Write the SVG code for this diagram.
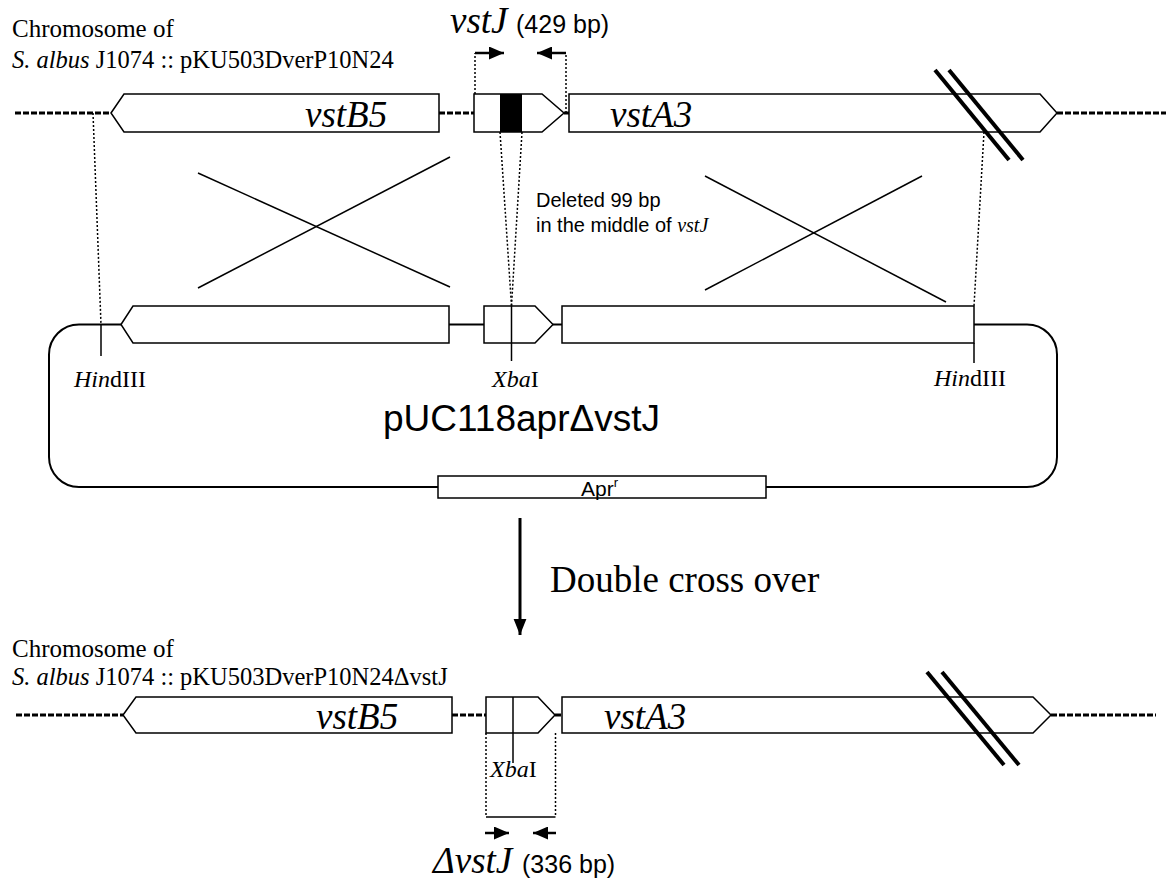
<svg xmlns="http://www.w3.org/2000/svg" width="1166" height="880" viewBox="0 0 1166 880">
<defs>
<style>
.gene{fill:#fff;stroke:#000;stroke-width:1.5}
.blk{fill:#000}
.dash{stroke:#000;stroke-width:3;stroke-dasharray:6 2;fill:none}
.dot{stroke:#000;stroke-width:1.5;stroke-dasharray:2 2;fill:none}
.ln{stroke:#000;stroke-width:1.5;fill:none}
.bb{stroke:#000;stroke-width:2;fill:none}
.brk{stroke:#000;stroke-width:4}
.pr{stroke:#000;stroke-width:2.5;fill:none}
.serif{font-family:"Liberation Serif","Times New Roman",serif;fill:#000}
.sans{font-family:"Liberation Sans",Arial,sans-serif;fill:#000}
.gname{font-family:"Liberation Serif","Times New Roman",serif;font-style:italic;font-size:37px;fill:#000}
.site{font-family:"Liberation Serif","Times New Roman",serif;font-size:24px;fill:#000}
</style>
<marker id="pa" markerUnits="userSpaceOnUse" markerWidth="15" markerHeight="13" refX="15" refY="6.5" orient="auto"><path d="M0,0 L15,6.5 L0,13 z" fill="#000"/></marker>
<marker id="big" markerUnits="userSpaceOnUse" markerWidth="16" markerHeight="20" refX="20" refY="8" orient="auto" viewBox="0 0 20 16"><path d="M0,0 L20,8 L0,16 z" fill="#000"/></marker>
</defs>

<g id="top-label">
<text class="serif" x="12" y="37" font-size="25">Chromosome of</text>
<text class="serif" x="12" y="68" font-size="24.5"><tspan font-style="italic">S. albus</tspan> J1074 :: pKU503DverP10N24</text>
</g>

<g id="top-chromosome">
<line class="dash" x1="15" y1="113" x2="111" y2="113"/>
<line class="dash" x1="439" y1="113" x2="474" y2="113"/>
<line class="dash" x1="564" y1="113" x2="569" y2="113"/>
<line class="dash" x1="1057" y1="113" x2="1166" y2="113"/>
</g>
<g id="top-vstB5">
<polygon class="gene" points="111,113 124,94 439,94 439,132 124,132"/>
<text class="gname" x="305" y="127">vstB5</text>
</g>
<g id="top-vstJ">
<polygon class="gene" points="474,94 542,94 564,113 542,132 474,132"/>
<rect class="blk" x="500" y="94" width="22" height="38"/>
<text class="gname" x="450" y="33" font-size="38">vstJ</text>
<text class="sans" x="516" y="33" font-size="25">(429 bp)</text>
</g>
<g id="top-vstA3">
<polygon class="gene" points="569,94 1040,94 1057,113 1040,132 569,132"/>
<text class="gname" x="610" y="127">vstA3</text>
</g>
<g id="top-break">
<line class="brk" x1="935" y1="70" x2="1009" y2="160"/>
<line class="brk" x1="949" y1="70" x2="1023" y2="160"/>
</g>

<g id="deleted-note">
<text class="sans" x="536" y="207" font-size="20">Deleted 99 bp</text>
<text class="sans" x="536" y="232" font-size="20">in the middle of <tspan class="serif" font-style="italic">vstJ</tspan></text>
</g>

<g id="plasmid">
<path class="bb" d="M121,324.5 H79 A30,30 0 0 0 49,354.5 V457 A30,30 0 0 0 79,487 H1027 A30,30 0 0 0 1057,457 V354.5 A30,30 0 0 0 1027,324.5 H974"/>
<line class="bb" x1="449" y1="324.5" x2="484" y2="324.5"/>
<line class="bb" x1="553" y1="324.5" x2="562" y2="324.5"/>
<polygon class="gene" points="121,324.5 133,306 449,306 449,343 133,343"/>
<polygon class="gene" points="484,306 535,306 553,324.5 535,343 484,343"/>
<rect class="gene" x="562" y="306" width="412" height="37"/>
<line class="ln" x1="101" y1="324.5" x2="101" y2="356"/>
<line class="ln" x1="511.5" y1="306" x2="511.5" y2="361"/>
<line class="ln" x1="974" y1="343" x2="974" y2="363"/>
<text class="site" x="74" y="387"><tspan font-style="italic">Hin</tspan>dIII</text>
<text class="site" x="492" y="387"><tspan font-style="italic">Xba</tspan>I</text>
<text class="site" x="934" y="386"><tspan font-style="italic">Hin</tspan>dIII</text>
<text class="sans" x="383" y="431" font-size="37">pUC118aprΔvstJ</text>
<rect class="gene" x="438" y="476" width="328" height="22"/>
<text class="sans" x="581" y="496" font-size="21">Apr<tspan font-size="13" dy="-9">r</tspan></text>
</g>

<g id="step-label">
<text class="serif" x="550" y="592" font-size="37">Double cross over</text>
</g>

<g id="bottom-label">
<text class="serif" x="12" y="657" font-size="25">Chromosome of</text>
<text class="serif" x="12" y="685" font-size="24.5"><tspan font-style="italic">S. albus</tspan> J1074 :: pKU503DverP10N24ΔvstJ</text>
</g>
<g id="bottom-chromosome">
<line class="dash" x1="16" y1="715" x2="123" y2="715"/>
<line class="dash" x1="452" y1="715" x2="486" y2="715"/>
<line class="dash" x1="555" y1="715" x2="562" y2="715"/>
<line class="dash" x1="1051" y1="715" x2="1156" y2="715"/>
</g>
<g id="bottom-vstB5">
<polygon class="gene" points="123,715 136,697 452,697 452,733 136,733"/>
<text class="gname" x="316" y="729">vstB5</text>
</g>
<g id="bottom-vstJ">
<polygon class="gene" points="486,697 538,697 555,715 538,733 486,733"/>
<line class="ln" x1="513" y1="697" x2="513" y2="763"/>
<text class="site" x="490" y="777"><tspan font-style="italic">Xba</tspan>I</text>
<line class="dot" x1="486" y1="733" x2="486" y2="817"/>
<line class="dot" x1="555.5" y1="733" x2="555.5" y2="817"/>
<line class="ln" x1="486" y1="817" x2="555.5" y2="817"/>
<text class="gname" x="433" y="873" font-size="38">ΔvstJ</text>
<text class="sans" x="522" y="873" font-size="25">(336 bp)</text>
</g>
<g id="bottom-vstA3">
<polygon class="gene" points="562,697 1033,697 1051,715 1033,733 562,733"/>
<text class="gname" x="604" y="729">vstA3</text>
</g>
<g id="bottom-break">
<line class="brk" x1="927" y1="672" x2="1004" y2="765"/>
<line class="brk" x1="942" y1="672" x2="1019" y2="765"/>
</g>

<g id="connectors">
<line class="dot" x1="93" y1="113" x2="101" y2="324.5"/>
<line class="dot" x1="984" y1="132" x2="974" y2="306"/>
<line class="dot" x1="500" y1="132" x2="511.5" y2="306"/>
<line class="dot" x1="522" y1="132" x2="511.5" y2="306"/>
<line class="ln" x1="198" y1="173" x2="450" y2="287"/>
<line class="ln" x1="450" y1="157" x2="198" y2="288"/>
<line class="ln" x1="705" y1="176" x2="946" y2="302"/>
<line class="ln" x1="922" y1="176" x2="705" y2="290"/>
<line class="dot" x1="475" y1="94" x2="475" y2="53"/>
<line class="pr" x1="475" y1="53" x2="504" y2="53" marker-end="url(#pa)"/>
<line class="dot" x1="566" y1="113" x2="566" y2="53"/>
<line class="pr" x1="566" y1="53" x2="537" y2="53" marker-end="url(#pa)"/>
<line class="pr" x1="485" y1="833" x2="509" y2="833" marker-end="url(#pa)"/>
<line class="pr" x1="556" y1="833" x2="533" y2="833" marker-end="url(#pa)"/>
<line stroke="#000" stroke-width="3" x1="520" y1="518" x2="520" y2="635" marker-end="url(#big)"/>
</g>
</svg>
